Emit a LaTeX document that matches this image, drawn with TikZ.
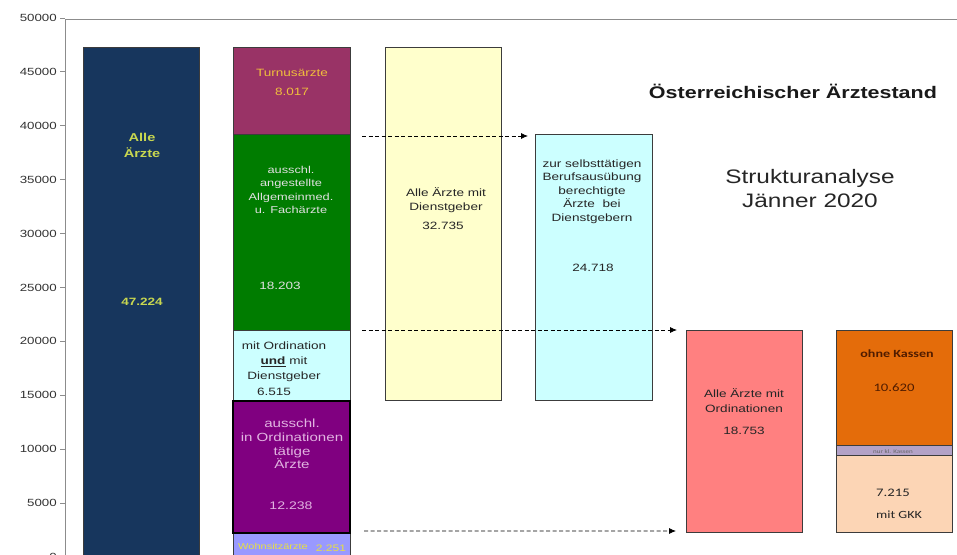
\documentclass[tikz,border=0pt]{standalone}
\usepackage{fontspec}
\setmainfont{Liberation Sans}[FakeStretch=1.28]
\newfontfamily\cfont{Carlito}[FakeStretch=1.28]
\newfontfamily\tfont{Liberation Sans}[FakeStretch=1.25]
\usetikzlibrary{arrows.meta,calc}
\definecolor{navy}{RGB}{23,54,93}
\definecolor{maroon}{RGB}{153,51,102}
\definecolor{dgreen}{RGB}{0,124,0}
\definecolor{lcyan}{RGB}{204,255,255}
\definecolor{purp}{RGB}{128,0,128}
\definecolor{peri}{RGB}{153,153,255}
\definecolor{lyellow}{RGB}{255,255,204}
\definecolor{salmon}{RGB}{255,128,128}
\definecolor{orng}{RGB}{228,108,10}
\definecolor{lilac}{RGB}{179,162,199}
\definecolor{peach}{RGB}{252,213,181}
\definecolor{barline}{RGB}{60,60,60}
\definecolor{axisgray}{RGB}{140,140,140}
\definecolor{axtext}{RGB}{50,50,50}
\definecolor{ygreen}{RGB}{200,215,80}
\definecolor{gold}{RGB}{240,190,60}
\definecolor{pinkt}{RGB}{225,180,225}
\definecolor{lgray}{RGB}{225,225,225}
\definecolor{wyellow}{RGB}{232,224,64}
\definecolor{brownt}{RGB}{80,28,0}
\begin{document}
\begin{tikzpicture}[x=1pt,y=-1pt,
  bar/.style={draw=barline, line width=0.9pt, inner sep=0pt, outer sep=0pt, anchor=north west},
  lbl/.style={inner sep=0pt, align=center, font=\fontsize{10.6}{13.6}\selectfont},
  flow/.style={draw=black, line width=0.8pt, dash pattern=on 4pt off 2.5pt, -{Latex[length=7pt,width=6pt]}},
  ticklbl/.style={inner sep=0pt, anchor=east, text=axtext, font=\fontsize{10.4}{12}\selectfont}]
\useasboundingbox (0,0) rectangle (957,554);
\begin{scope}
\clip (0,0) rectangle (957,554);
% axis
\draw[axisgray, line width=0.9pt] (65,19) -- (65,560);
\draw[axisgray, line width=0.9pt] (65,19) -- (957,19);
\foreach \k/\lab in {0/0,1/5000,2/10000,3/15000,4/20000,5/25000,6/30000,7/35000,8/40000,9/45000,10/50000}{
  \draw[axisgray, line width=0.9pt] (60,{557-\k*53.9}) -- (65,{557-\k*53.9});
  \node[ticklbl] (tick\k) at (57,{557-\k*53.9}) {\lab};
}
% bar 1
\node[bar, fill=navy, minimum width=116pt, minimum height=512pt] (alle) at (83,47.9) {};
% stacked bar
\node[bar, fill=maroon, minimum width=117pt, minimum height=86.5pt] (turnus) at (233,47.9) {};
\node[bar, fill=dgreen, minimum width=117pt, minimum height=196.2pt] (green) at (233,134.4) {};
\node[bar, fill=lcyan, minimum width=117pt, minimum height=70.2pt] (mixed) at (233,330.6) {};
\node[bar, fill=peri, minimum width=117pt, minimum height=28pt] (wohn) at (233,532.8) {};
\node[bar, fill=purp, draw=black, line width=2pt, minimum width=117pt, minimum height=132pt] (ordo) at (233,400.8) {};
% yellow, cyan
\node[bar, fill=lyellow, minimum width=116pt, minimum height=352.9pt] (dienst) at (385,47.9) {};
\node[bar, fill=lcyan, minimum width=117pt, minimum height=266.4pt] (selbst) at (535,134.4) {};
% salmon
\node[bar, fill=salmon, minimum width=116pt, minimum height=202.2pt] (ordall) at (686,330.6) {};
% right stacked
\node[bar, fill=orng, minimum width=116pt, minimum height=114.5pt] (ohne) at (836,330.6) {};
\node[bar, fill=lilac, minimum width=116pt, minimum height=9.9pt] (klein) at (836,445.1) {};
\node[bar, fill=peach, minimum width=116pt, minimum height=77.8pt] (gkk) at (836,455) {};
% labels
\node[lbl, text=ygreen, font=\bfseries\fontsize{11.4}{16}\selectfont] (t1) at (142,145) {Alle\\Ärzte};
\node[lbl, text=ygreen, font=\bfseries\fontsize{10.6}{13}\selectfont] (t2) at (142,302) {47.224};
\node[lbl, text=gold] (t3) at (292,82.5) {Turnusärzte\\[5pt]8.017};
\node[lbl, text=lgray, font=\fontsize{10}{13.5}\selectfont] (t4) at (291,190) {ausschl.\\angestellte\\Allgemeinmed.\\u. Fachärzte};
\node[lbl, text=lgray] (t5) at (280,286) {18.203};
\node[lbl, text=black!85, font=\fontsize{10.6}{15}\selectfont] (t6) at (284,362) {mit Ordination\\\textbf{\underline{und}} mit\\Dienstgeber};
\node[lbl, text=black!85] (t7) at (274,392) {6.515};
\node[lbl, text=pinkt, font=\fontsize{11.8}{13.6}\selectfont] (t8) at (292,444) {ausschl.\\in Ordinationen\\tätige\\Ärzte};
\node[lbl, text=pinkt, font=\fontsize{11}{13}\selectfont] (t9) at (291,506) {12.238};
\node[lbl, text=wyellow, font=\fontsize{8.6}{10}\selectfont] (t10) at (273,546) {Wohnsitzärzte};
\node[lbl, text=wyellow, font=\fontsize{9.4}{10}\selectfont] (t11) at (331,548) {2.251};
\node[lbl, text=black!85] (t12) at (446,200) {Alle Ärzte mit\\Dienstgeber};
\node[lbl, text=black!85] (t13) at (443,226) {32.735};
\node[lbl, text=black!85] (t14) at (592,191.5) {zur selbsttätigen\\Berufsausübung\\berechtigte\\Ärzte~~bei\\Dienstgebern};
\node[lbl, text=black!85] (t15) at (593,268) {24.718};
\node[lbl, text=black!85, font=\fontsize{10.6}{14.5}\selectfont] (t16) at (744,400.5) {Alle Ärzte mit\\Ordinationen};
\node[lbl, text=black!85] (t17) at (744,431) {18.753};
\node[lbl, text=brownt, font=\cfont\bfseries\fontsize{11}{13}\selectfont] (t18) at (897,354) {ohne Kassen};
\node[lbl, text=brownt, font=\cfont\fontsize{11.5}{13}\selectfont] (t19) at (894,388) {10.620};
\node[lbl, text=black!60, font=\cfont\fontsize{5.5}{6}\selectfont] (t20) at (893,452) {nur kl. Kassen};
\node[lbl, text=black!85, font=\cfont\fontsize{11.5}{13}\selectfont] (t21) at (893,493) {7.215};
\node[lbl, text=black!85, font=\cfont\fontsize{11}{13}\selectfont] (t22) at (899,515) {mit GKK};
% titles
\node[inner sep=0pt, text=black!90, font=\bfseries\fontsize{16.8}{20}\selectfont] (title) at (793,91) {Österreichischer Ärztestand};
\node[inner sep=0pt, align=center, text=black!85, font=\tfont\fontsize{19.5}{23.5}\selectfont] (sub) at (810,188.5) {Strukturanalyse\\Jänner 2020};
% flows
\coordinate (a1s) at ($(green.north east)+(12,1.6)$);
\coordinate (a1e) at ($(selbst.north west)+(-7,1.6)$);
\coordinate (a2s) at ($(mixed.north east)+(12,-0.6)$);
\coordinate (a2e) at ($(ordall.north west)+(-9,-0.6)$);
\coordinate (a3s) at ($(ordo.south east)+(14,-1.8)$);
\coordinate (a3e) at ($(ordall.south west)+(-10,-1.8)$);
\draw[flow] (a1s) -- (a1e);
\draw[flow] (a2s) -- (a2e);
\draw[flow] (a3s) -- (a3e);
\end{scope}
\end{tikzpicture}
\end{document}
